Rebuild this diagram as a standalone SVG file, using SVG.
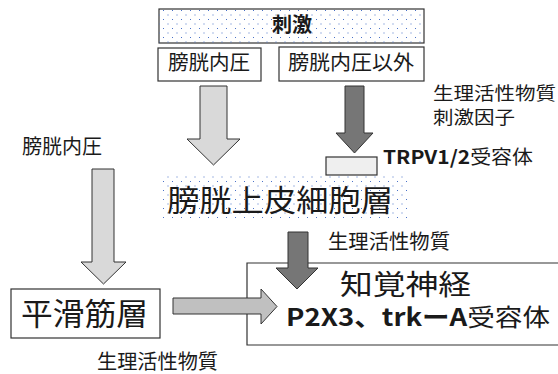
<svg xmlns="http://www.w3.org/2000/svg" width="558" height="374" viewBox="0 0 558 374">
<defs>
<pattern id="dots" width="9" height="9" patternUnits="userSpaceOnUse">
<rect x="1" y="1" width="1" height="1" fill="#4a72c8"/>
<rect x="5.5" y="5.5" width="1" height="1" fill="#4a72c8"/>
</pattern>
<style>
text{font-family:"Noto Sans CJK JP","Noto Sans",sans-serif;fill:#1a1a1a}
.box{fill:#fff;stroke:#333;stroke-width:1.2}
.b{font-weight:bold}
.arrL{fill:#d9d9d9;stroke:#333;stroke-width:1}
.arrM{fill:#c0c0c0;stroke:#333;stroke-width:1}
.arrD{fill:#767676;stroke:#333;stroke-width:1}
</style>
</defs>
<rect width="558" height="374" fill="#fff"/>

<g id="stimulus">
<rect x="159" y="9" width="265" height="34" fill="#fff" stroke="#333" stroke-width="1.2"/>
<rect x="159" y="9" width="265" height="34" fill="url(#dots)"/>
<text x="292" y="32" font-size="20" class="b" text-anchor="middle">刺激</text>
</g>

<g id="pressure">
<rect class="box" x="158" y="48" width="103" height="33"/>
<text x="168" y="70" font-size="20" textLength="82" lengthAdjust="spacingAndGlyphs">膀胱内圧</text>
</g>

<g id="nonpressure">
<rect class="box" x="279" y="47" width="145" height="34"/>
<text x="288" y="70" font-size="20" textLength="126" lengthAdjust="spacingAndGlyphs">膀胱内圧以外</text>
</g>

<g id="label-top-right">
<text x="433" y="100" font-size="18" textLength="123" lengthAdjust="spacingAndGlyphs">生理活性物質</text>
<text x="433" y="124" font-size="18" textLength="82" lengthAdjust="spacingAndGlyphs">刺激因子</text>
</g>

<g id="trpv">
<rect x="326" y="157" width="51" height="18" fill="#efefef" stroke="#333" stroke-width="1.2"/>
<text x="383" y="164" font-size="19" textLength="150" lengthAdjust="spacingAndGlyphs"><tspan class="b">TRPV1/2</tspan>受容体</text>
</g>

<g id="urothelium">
<rect x="160" y="176" width="248" height="44" fill="url(#dots)"/>
<text x="167" y="211" font-size="30" textLength="226" lengthAdjust="spacingAndGlyphs">膀胱上皮細胞層</text>
</g>

<g id="label-left">
<text x="22" y="154" font-size="20" textLength="80" lengthAdjust="spacingAndGlyphs">膀胱内圧</text>
</g>

<g id="smooth-muscle">
<rect class="box" x="11" y="289" width="149" height="49"/>
<text x="21" y="325" font-size="31" textLength="127" lengthAdjust="spacingAndGlyphs">平滑筋層</text>
</g>

<g id="label-middle">
<text x="328" y="249" font-size="20" textLength="122" lengthAdjust="spacingAndGlyphs">生理活性物質</text>
</g>

<g id="sensory-nerve">
<polyline points="562,263 247,263 247,345 562,345" fill="#fff" stroke="#333" stroke-width="1.2"/>
<text x="340" y="295" font-size="28" textLength="131" lengthAdjust="spacingAndGlyphs">知覚神経</text>
<text x="286" y="326" font-size="24" textLength="264" lengthAdjust="spacingAndGlyphs"><tspan class="b">P2X3、trkーA</tspan>受容体</text>
</g>

<g id="label-bottom">
<text x="97" y="369" font-size="20" textLength="121" lengthAdjust="spacingAndGlyphs">生理活性物質</text>
</g>

<g id="connectors">
<polygon class="arrL" points="200,86 227,86 227,139 240,139 213.5,165 187,139 200,139"/>
<polygon class="arrD" points="345,86 364,86 364,133 373,133 354.5,153 336,133 345,133"/>
<polygon class="arrL" points="92,169 114,169 114,262 126,262 103.5,284 81,262 92,262"/>
<polygon class="arrM" points="173,298 261,298 261,289 277,306.5 261,324 261,314 173,314"/>
<polygon class="arrD" points="288,232 308,232 308,268 318,268 297,289 276,268 288,268"/>
</g>
</svg>
